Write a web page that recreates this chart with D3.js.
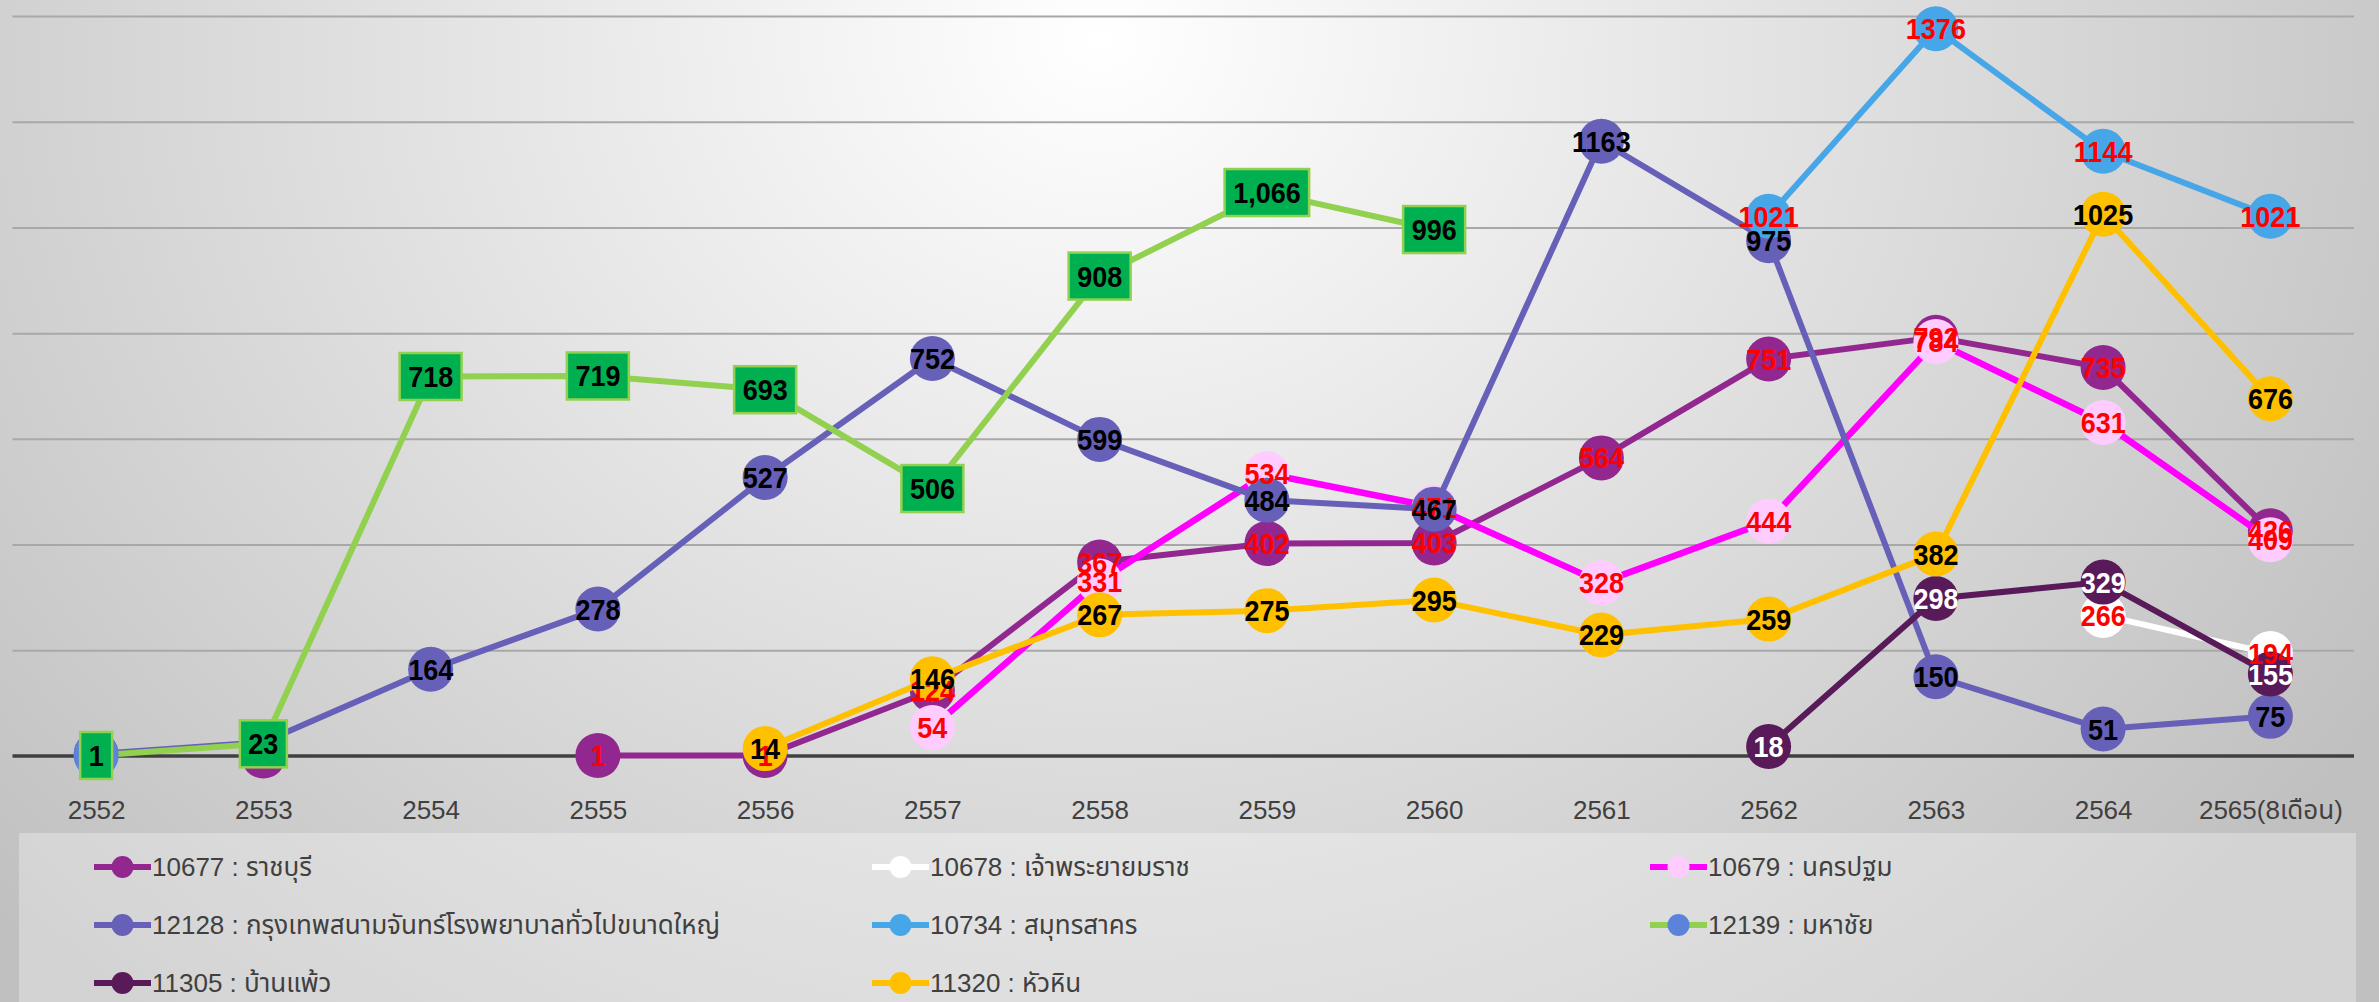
<!DOCTYPE html>
<html>
<head>
<meta charset="utf-8">
<script src="https://cdn.jsdelivr.net/npm/d3@7"></script>
<style>
  html, body { margin: 0; padding: 0; background: #d0d0d0; }
  svg { display: block; }
</style>
</head>
<body>
<svg id="chart" width="2379" height="1002"></svg>
<script>
// ---------- DATA ----------
const years = ["2552","2553","2554","2555","2556","2557","2558","2559","2560","2561","2562","2563","2564","2565(8เดือน)"];
const yTicks = [200, 400, 600, 800, 1000, 1200, 1400];

const s10677 = [null, 0, null, 1, 1, 124, 367, 402, 403, 564, 751, 792, 735, 426];
const s10678 = [null, null, null, null, null, null, null, null, null, null, null, null, 266, 194];
const s10679 = [null, null, null, null, null, 54, 331, 534, 471, 328, 444, 784, 631, 409];
const s12128 = [4, 26, 164, 278, 527, 752, 599, 484, 467, 1163, 975, 150, 51, 75];
const s10734 = [null, null, null, null, null, null, null, null, null, null, 1021, 1376, 1144, 1021];
const s12139 = [1, 23, 718, 719, 693, 506, 908, 1066, 996, null, null, null, null, null];
const s11305 = [null, null, null, null, null, null, null, null, null, null, 18, 298, 329, 155];
const s11320 = [null, null, null, null, 14, 146, 267, 275, 295, 229, 259, 382, 1025, 676];

const seriesNames = [
  "10677 : ราชบุรี", "10678 : เจ้าพระยายมราช", "10679 : นครปฐม",
  "12128 : กรุงเทพสนามจันทร์โรงพยาบาลทั่วไปขนาดใหญ่", "10734 : สมุทรสาคร", "12139 : มหาชัย",
  "11305 : บ้านแพ้ว", "11320 : หัวหิน"
];
const seriesValues = [s10677, s10678, s10679, s12128, s10734, s12139, s11305, s11320];
const lineColors   = ["#92278F", "#FFFFFF", "#FF00FF", "#6660B8", "#47A6E8", "#92D050", "#581A58", "#FFC000"];
const markerColors = ["#92278F", "#FFFFFF", "#FFCCFF", "#6660B8", "#47A6E8", "#5B83DA", "#581A58", "#FFC000"];
const labelColors  = ["#FF0000", "#FF0000", "#FF0000", "#000000", "#FF0000", "#000000", "#FFFFFF", "#000000"];
const boxedLabel   = [false, false, false, false, false, true, false, false];

// ---------- LAYOUT ----------
const W = 2379, H = 1002;
const svg = d3.select("#chart");
const defs = svg.append("defs");

const grad = defs.append("radialGradient")
  .attr("id", "bg").attr("gradientUnits", "userSpaceOnUse")
  .attr("cx", 0).attr("cy", 0).attr("r", 1)
  .attr("gradientTransform", "translate(1100,40) scale(1500,1300)");
grad.append("stop").attr("offset", 0).attr("stop-color", "#ffffff");
grad.append("stop").attr("offset", 1).attr("stop-color", "#c0c0c0");
svg.append("rect").attr("width", W).attr("height", H).attr("fill", "url(#bg)");

const x = d3.scalePoint().domain(years).range([12.5, 2354]).padding(0.5);
const y = d3.scaleLinear().domain([0, 1400]).range([756, 16]);

// gridlines
const grid = svg.append("g").attr("transform", `translate(12.5,0)`)
  .call(d3.axisLeft(y).tickValues(yTicks).tickSize(-(2354 - 12.5)).tickFormat(""));
grid.select(".domain").remove();
grid.selectAll(".tick line").attr("stroke", "#a8a8a8").attr("stroke-width", 2);

// x axis line
svg.append("line").attr("x1", 12.5).attr("x2", 2354).attr("y1", y(0)).attr("y2", y(0))
  .attr("stroke", "#404040").attr("stroke-width", 3.5);

// x axis labels
const xa = svg.append("g").attr("transform", `translate(0,${y(0)})`)
  .call(d3.axisBottom(x).tickSize(0).tickPadding(0));
xa.select(".domain").remove();
xa.selectAll(".tick text")
  .attr("y", 54).attr("dy", null)
  .attr("dominant-baseline", "central")
  .attr("fill", "#404040")
  .style("font-family", "'Liberation Sans', 'Noto Sans Thai', 'Noto Sans', sans-serif")
  .style("font-size", "26px");

// ---------- SERIES ----------
const line = d3.line().defined(d => d.v != null).x(d => x(d.year)).y(d => y(d.v));
const R = 22.5;

seriesValues.forEach((vals, si) => {
  const pts = vals.map((v, i) => ({ year: years[i], v }));
  const g = svg.append("g");
  g.append("path").datum(pts).attr("d", line)
    .attr("fill", "none").attr("stroke", lineColors[si])
    .attr("stroke-width", si === 2 ? 6.5 : 6).attr("stroke-linejoin", "round");
  g.selectAll("circle").data(pts.filter(d => d.v != null)).join("circle")
    .attr("cx", d => x(d.year)).attr("cy", d => y(d.v)).attr("r", R)
    .attr("fill", markerColors[si]);
});

// labels (on top of all lines/markers)
const fmtComma = d3.format(",");
const SX = 0.9;
seriesValues.forEach((vals, si) => {
  const pts = vals.map((v, i) => ({ year: years[i], v })).filter(d => d.v != null);
  const g = svg.append("g");
  const lg = g.selectAll("g").data(pts).join("g")
    .attr("transform", d => `translate(${x(d.year)},${y(d.v)})`);
  if (boxedLabel[si]) lg.append("rect");
  const texts = lg.append("text")
    .text(d => boxedLabel[si] ? fmtComma(d.v) : d.v)
    .attr("transform", `scale(${SX},1)`)
    .attr("text-anchor", "middle").attr("dominant-baseline", "central")
    .attr("fill", labelColors[si])
    .style("font-family", "'Liberation Sans', Arial, sans-serif")
    .style("font-weight", "bold").style("font-size", "30px");
  if (boxedLabel[si]) {
    texts.each(function () {
      const w = this.getComputedTextLength() * SX;
      d3.select(this.parentNode).select("rect")
        .attr("x", -w / 2 - 8.5).attr("y", -23.5)
        .attr("width", w + 17).attr("height", 47)
        .attr("fill", "#00B050").attr("stroke", "#92D050").attr("stroke-width", 2.5);
    });
  }
});

// ---------- LEGEND ----------
svg.append("rect").attr("x", 19).attr("y", 833).attr("width", 2356 - 19).attr("height", H - 833)
  .attr("fill", "#ffffff").attr("fill-opacity", 0.3);

const colX = [94, 872, 1650];
const rowY = [867, 925, 983];
seriesNames.forEach((name, si) => {
  const cx = colX[si % 3], cy = rowY[Math.floor(si / 3)];
  const g = svg.append("g").attr("transform", `translate(${cx},${cy})`);
  g.append("line").attr("x1", 0).attr("x2", 57).attr("y1", 0).attr("y2", 0)
    .attr("stroke", lineColors[si]).attr("stroke-width", 6);
  g.append("circle").attr("cx", 28.5).attr("cy", 0).attr("r", 11).attr("fill", markerColors[si]);
  g.append("text").attr("x", 58).attr("y", 0).attr("dominant-baseline", "central")
    .attr("fill", "#404040")
    .style("font-family", "'Liberation Sans', 'Noto Sans Thai', 'Noto Sans', sans-serif")
    .style("font-size", "26px")
    .text(name);
});
</script>
</body>
</html>
